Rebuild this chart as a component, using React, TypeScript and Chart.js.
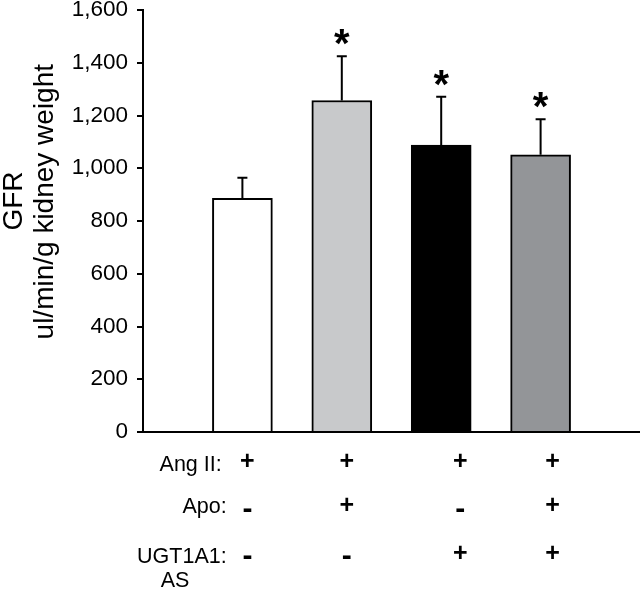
import React, { useEffect, useRef } from "react";
import { Chart, registerables } from "chart.js";

Chart.register(...registerables);

// ---- data ----
const GROUPS = ["Ang II", "Ang II + Apo", "Ang II + UGT1A1 AS", "Ang II + Apo + UGT1A1 AS"];
const GFR_MEAN = [886, 1257, 1088, 1051];
const GFR_SEM = [78, 168, 183, 135];
const SIGNIFICANT = [false, true, true, true];
const BAR_COLORS = ["#ffffff", "#c8c9cb", "#000000", "#939598"];
const Y_TICKS = [0, 200, 400, 600, 800, 1000, 1200, 1400, 1600];
const ROW_LABELS = ["Ang II:", "Apo:", "UGT1A1:"];
const ANG_II = ["+", "+", "+", "+"];
const APO = ["-", "+", "-", "+"];
const UGT1A1_AS = ["-", "-", "+", "+"];
const Y_TITLE = ["GFR", "ul/min/g kidney weight"];

// ---- layout (not data) ----
const FONT = '"Liberation Sans", Arial, Helvetica, sans-serif';
const SIGN_COL_OFFSET = [5, 5, 19, 12];
const ROW_CENTER_Y = [462, 506.5, 554];
const ROW_LABEL_BASELINE = [470.7, 513.3, 563.3];
const ROW_LABEL_RIGHT = [221.7, 226.7, 226.7];

const labels = ["", ...GROUPS, ""];
const values = [null, ...GFR_MEAN, null];
const colors = ["#fff", ...BAR_COLORS, "#fff"];

const annotPlugin = {
  id: "annot",
  afterDatasetsDraw(chart: any) {
    const ctx = chart.ctx;
    const meta = chart.getDatasetMeta(0);
    const ys = chart.scales.y;
    ctx.save();
    ctx.strokeStyle = "#000";
    ctx.fillStyle = "#000";
    ctx.lineWidth = 2;
    GFR_MEAN.forEach((m, i) => {
      const el = meta.data[i + 1];
      const x = el.x;
      const top = el.y;
      const ey = ys.getPixelForValue(m + GFR_SEM[i]);
      ctx.beginPath();
      ctx.moveTo(x, top);
      ctx.lineTo(x, ey);
      ctx.moveTo(x - 5, ey);
      ctx.lineTo(x + 5, ey);
      ctx.stroke();
      if (SIGNIFICANT[i]) {
        const fs = 40;
        ctx.font = `bold ${fs}px ${FONT}`;
        ctx.textAlign = "center";
        ctx.textBaseline = "alphabetic";
        const cy = ey - 22;
        ctx.fillText("*", x, cy + 0.58 * fs);
      }
    });
    ctx.restore();
  },
  afterDraw(chart: any) {
    const ctx = chart.ctx;
    const meta = chart.getDatasetMeta(0);
    ctx.save();
    ctx.fillStyle = "#000";
    // y title
    ctx.font = `28px ${FONT}`;
    ctx.textAlign = "center";
    ctx.textBaseline = "alphabetic";
    const titlePos = [
      [22, 201],
      [53.3, 201.7],
    ];
    Y_TITLE.forEach((t, i) => {
      ctx.save();
      ctx.translate(titlePos[i][0], titlePos[i][1]);
      ctx.rotate(-Math.PI / 2);
      ctx.fillText(t, 0, 0);
      ctx.restore();
    });
    // table row labels
    ctx.font = `21.5px ${FONT}`;
    ctx.textAlign = "right";
    ROW_LABELS.forEach((t, i) => {
      ctx.fillText(t, ROW_LABEL_RIGHT[i], ROW_LABEL_BASELINE[i]);
    });
    ctx.textAlign = "center";
    ctx.fillText("AS", 175, 587);
    // signs
    ctx.textBaseline = "middle";
    const rows = [ANG_II, APO, UGT1A1_AS];
    rows.forEach((row, r) => {
      row.forEach((s, c) => {
        const x = meta.data[c + 1].x + SIGN_COL_OFFSET[c];
        if (s === "-") {
          ctx.font = `bold 30px ${FONT}`;
          ctx.fillText(s, x, ROW_CENTER_Y[r] + 3);
        } else {
          ctx.font = `bold 25px ${FONT}`;
          ctx.fillText(s, x, ROW_CENTER_Y[r]);
        }
      });
    });
    ctx.restore();
  },
};

export default function App() {
  const ref = useRef<HTMLCanvasElement | null>(null);
  useEffect(() => {
    document.body.style.margin = "0";
    const canvas = ref.current!;
    const chart = new Chart(canvas, {
      type: "bar",
      data: {
        labels,
        datasets: [
          {
            data: values as any,
            backgroundColor: colors,
            borderColor: "#000",
            borderWidth: 2,
            barThickness: 60,
          },
        ],
      },
      options: {
        responsive: false,
        animation: false,
        layout: { padding: { top: 10, bottom: 161, left: 0, right: 0 } },
        plugins: {
          legend: { display: false },
          tooltip: { enabled: false },
          title: { display: false },
        },
        scales: {
          x: {
            type: "category",
            offset: false,
            grid: { display: false },
            border: { display: true, color: "#000", width: 2 },
            ticks: { display: false },
            afterFit: (scale: any) => {
              scale.height = 0;
              scale.paddingLeft = 0;
              scale.paddingRight = 0;
            },
          },
          y: {
            min: 0,
            max: 1600,
            afterBuildTicks: (scale: any) => {
              scale.ticks = Y_TICKS.map((v) => ({ value: v }));
            },
            afterFit: (scale: any) => {
              scale.width = 143;
              scale.paddingTop = 0;
              scale.paddingBottom = 0;
            },
            grid: {
              drawOnChartArea: false,
              drawTicks: true,
              tickLength: 6,
              color: "#000",
              lineWidth: 2,
            },
            border: { display: true, color: "#000", width: 2 },
            ticks: {
              color: "#000",
              padding: 9,
              font: { family: FONT, size: 22.5 },
              callback: (v: any) => Number(v).toLocaleString("en-US"),
            },
          },
        },
      },
      plugins: [annotPlugin],
    });
    return () => chart.destroy();
  }, []);
  return <canvas ref={ref} width={640} height={593} style={{ display: "block" }} />;
}
